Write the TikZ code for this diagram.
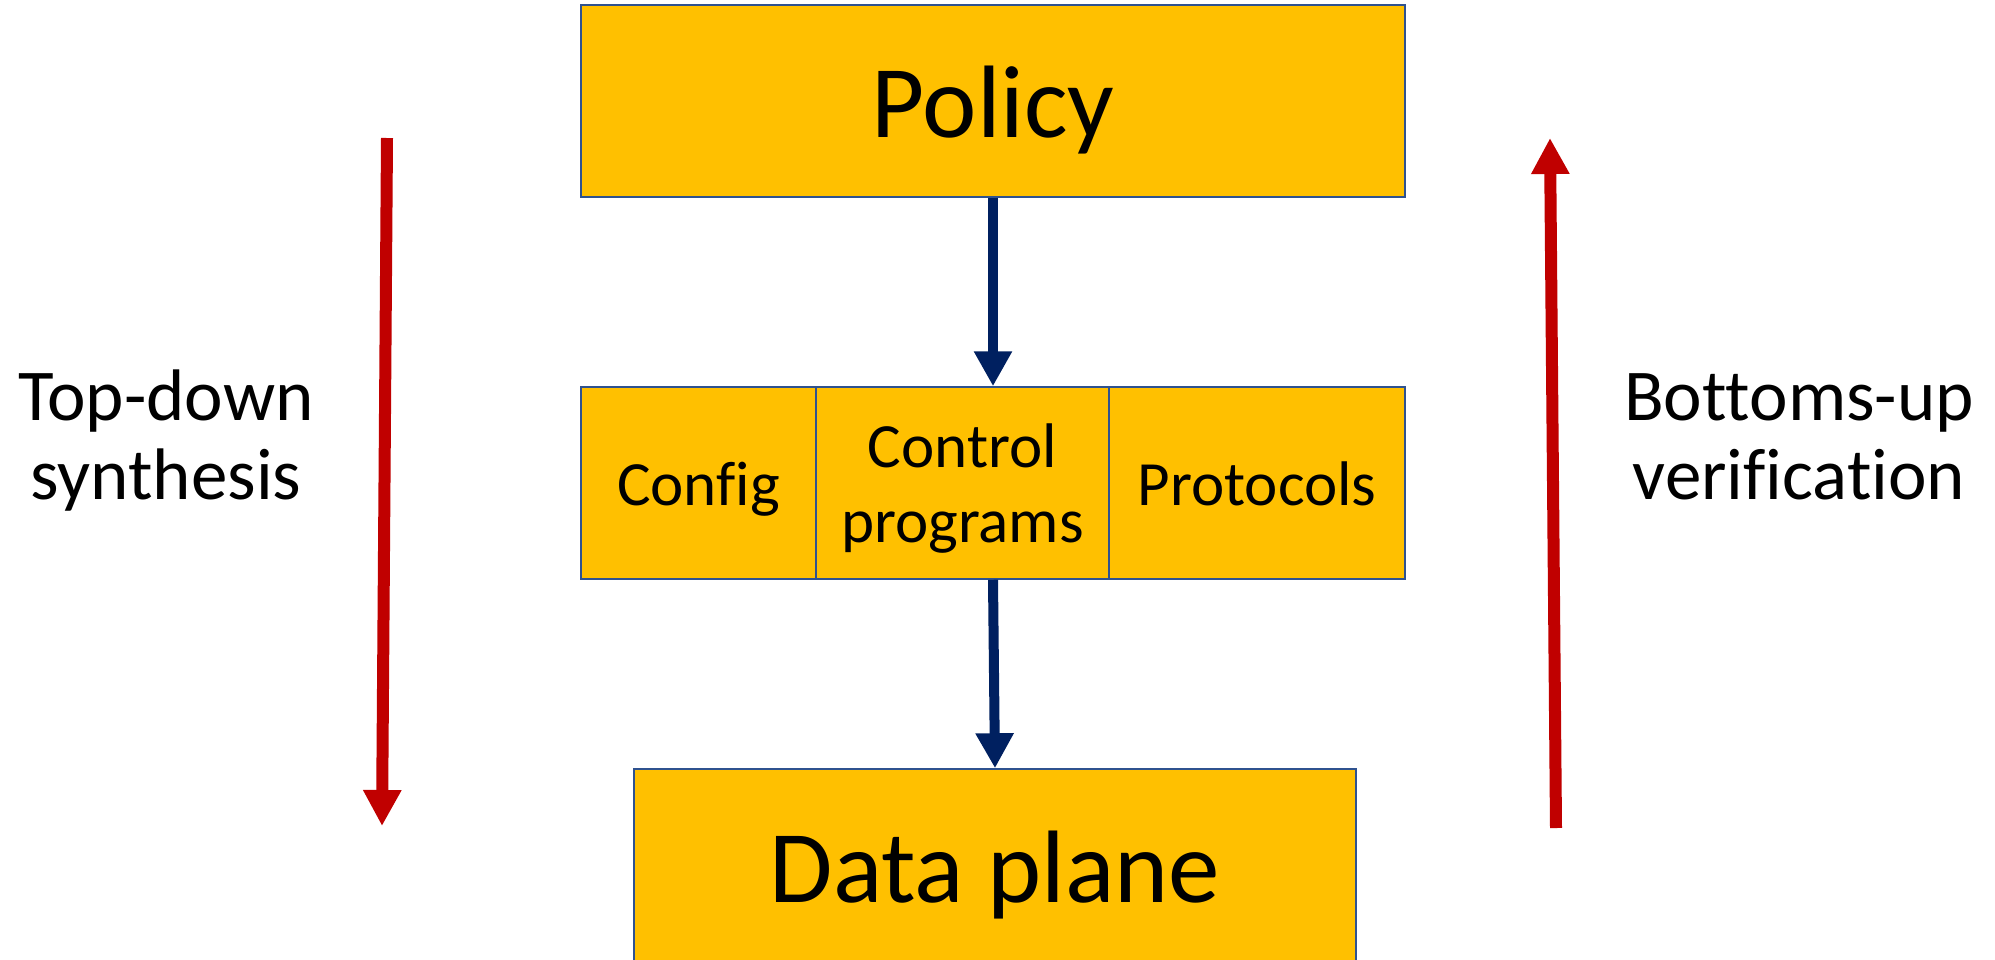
\documentclass[tikz,border=0pt]{standalone}
\usepackage{fontspec}
\setmainfont{Carlito}[Ligatures={NoCommon}]
\usetikzlibrary{arrows.meta}
\definecolor{boxfill}{HTML}{FFC000}
\definecolor{boxline}{HTML}{2F528F}
\definecolor{flowblue}{HTML}{002060}
\definecolor{flowred}{HTML}{C00000}
\begin{document}
\begin{tikzpicture}[x=1pt,y=-1pt,
  layer/.style={draw=boxline, line width=1.5pt, fill=boxfill, inner sep=0pt, anchor=center},
  bigtext/.style={font=\fontsize{103}{110}\selectfont},
  celltext/.style={font=\fontsize{63}{75}\selectfont},
  sidelabel/.style={font=\fontsize{73}{79}\selectfont, align=center, inner sep=0pt},
  flowarrow/.style={draw=flowblue, line width=10pt, -{Triangle[length=35pt,width=36pt]}},
  redarrow/.style={draw=flowred, line width=12pt, -{Triangle[length=36pt,width=36pt]}}]
\useasboundingbox (0,0) rectangle (1995,959);
\clip (0,0) rectangle (1995,959);

% top layer
\node[layer, bigtext, minimum width=824pt, minimum height=192pt,
      text height=72pt, text depth=0pt] (policy) at (993,101) {Policy};

% middle layer: three cells side by side
\node[layer, celltext, minimum width=235pt, minimum height=192pt,
      text height=44pt, text depth=0pt] (config) at (698.5,483) {Config};
\node[layer, celltext, minimum width=293pt, minimum height=192pt, align=center,
      text height=118pt, text depth=0pt] (ctrl) at (962.5,483) {Control\\programs};
\node[layer, celltext, minimum width=296pt, minimum height=192pt,
      text height=44pt, text depth=0pt] (proto) at (1257,483) {Protocols};

% bottom layer (runs past the lower edge)
\node[layer, bigtext, minimum width=722pt, minimum height=240pt,
      text height=26pt, text depth=0pt] (data) at (995,889) {Data plane};

% flow between layers
\draw[flowarrow] (policy.south) -- (policy.south |- ctrl.north);
\draw[flowarrow] (policy.south |- ctrl.south) -- (data.north);

% side arrows
\coordinate (tdTop) at (387,138);
\coordinate (tdBot) at (382,826);
\draw[redarrow] (tdTop) -- (tdBot);
\coordinate (buBot) at (1556,828);
\coordinate (buTop) at (1550,138);
\draw[redarrow] (buBot) -- (buTop);

% side labels (base anchor sits on the last line)
\node[sidelabel, anchor=base] (topdown) at (166,499) {Top-down\\synthesis};
\node[sidelabel, anchor=base] (bottomsup) at (1799,499) {Bottoms-up\\verification};
\end{tikzpicture}
\end{document}
